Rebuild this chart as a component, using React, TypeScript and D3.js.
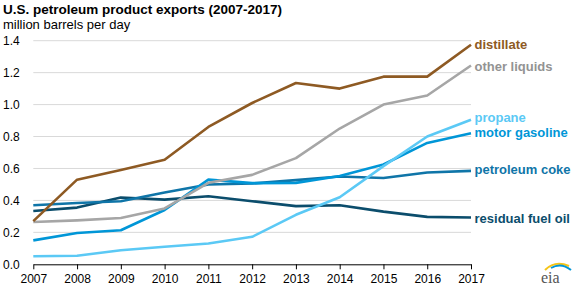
import React, { useRef, useEffect } from 'react';
import * as d3 from 'd3';

const years = [2007, 2008, 2009, 2010, 2011, 2012, 2013, 2014, 2015, 2016, 2017];
const yTicks = [0, 0.2, 0.4, 0.6, 0.8, 1.0, 1.2, 1.4];

const distillate = [0.27, 0.53, 0.59, 0.655, 0.86, 1.01, 1.135, 1.10, 1.175, 1.175, 1.375];
const otherLiquids = [0.265, 0.275, 0.29, 0.35, 0.51, 0.56, 0.665, 0.85, 1.0, 1.057, 1.245];
const propane = [0.05, 0.054, 0.088, 0.11, 0.13, 0.172, 0.31, 0.42, 0.615, 0.80, 0.905];
const motorGasoline = [0.15, 0.196, 0.213, 0.34, 0.53, 0.508, 0.51, 0.553, 0.625, 0.76, 0.82];
const petroleumCoke = [0.37, 0.384, 0.395, 0.45, 0.50, 0.506, 0.527, 0.55, 0.54, 0.575, 0.585];
const residualFuelOil = [0.334, 0.355, 0.418, 0.405, 0.426, 0.395, 0.364, 0.37, 0.33, 0.297, 0.293];

const series = [
  { name: 'residual fuel oil', values: residualFuelOil, color: '#0b4d6c', labelY: 0.288 },
  { name: 'petroleum coke', values: petroleumCoke, color: '#0f75a8', labelY: 0.595 },
  { name: 'motor gasoline', values: motorGasoline, color: '#0096d7', labelY: 0.825 },
  { name: 'propane', values: propane, color: '#5bc9f5', labelY: 0.918 },
  { name: 'other liquids', values: otherLiquids, color: '#a6a6a6', labelY: 1.242, labelColor: '#939393' },
  { name: 'distillate', values: distillate, color: '#8e5a23', labelY: 1.38 },
];

const FONT = 'Arial, "Liberation Sans", sans-serif';

function App() {
  const svgRef = useRef<SVGSVGElement>(null);

  useEffect(() => {
    const svg = d3.select(svgRef.current);
    svg.selectAll('*').remove();

    const x = d3.scaleLinear().domain([2007, 2017]).range([33.3, 471]);
    const y = d3.scaleLinear().domain([0, 1.4]).range([264.3, 40.7]);

    // Title
    svg.append('text')
      .attr('x', 3).attr('y', 14)
      .attr('font-family', FONT).attr('font-size', 13.5).attr('font-weight', 'bold')
      .attr('fill', '#000')
      .text('U.S. petroleum product exports (2007-2017)');
    svg.append('text')
      .attr('x', 3).attr('y', 28.5)
      .attr('font-family', FONT).attr('font-size', 13)
      .attr('fill', '#000')
      .text('million barrels per day');

    // Gridlines
    svg.append('g')
      .selectAll('line')
      .data(yTicks.filter(d => d > 0))
      .enter()
      .append('line')
      .attr('x1', x(2007)).attr('x2', x(2017))
      .attr('y1', d => y(d)).attr('y2', d => y(d))
      .attr('stroke', '#d9d9d9').attr('stroke-width', 1);

    // Y labels
    svg.append('g')
      .selectAll('text')
      .data(yTicks)
      .enter()
      .append('text')
      .attr('x', 3).attr('y', d => y(d) + 4.5)
      .attr('font-family', FONT).attr('font-size', 12)
      .attr('fill', '#000')
      .text(d => d.toFixed(1));

    // X axis
    const xAxis = d3.axisBottom(x)
      .tickValues(years)
      .tickFormat(d => String(d))
      .tickSize(5)
      .tickSizeOuter(0);
    const ax = svg.append('g')
      .attr('transform', `translate(0,${y(0)})`)
      .call(xAxis);
    ax.select('.domain').attr('stroke', '#000').attr('stroke-width', 1);
    ax.selectAll('.tick line').attr('stroke', '#000');
    ax.selectAll('.tick text')
      .attr('font-family', FONT).attr('font-size', 12).attr('fill', '#000')
      .attr('dy', '0.9em');

    // Lines
    const line = d3.line<number>()
      .x((d, i) => x(years[i]))
      .y(d => y(d));

    svg.append('g')
      .selectAll('path')
      .data(series)
      .enter()
      .append('path')
      .attr('d', d => line(d.values))
      .attr('fill', 'none')
      .attr('stroke', d => d.color)
      .attr('stroke-width', 2.6)
      .attr('stroke-linejoin', 'round');

    // End labels
    svg.append('g')
      .selectAll('text')
      .data(series)
      .enter()
      .append('text')
      .attr('x', x(2017) + 3.5)
      .attr('y', d => y(d.labelY) + 4.7)
      .attr('font-family', FONT).attr('font-size', 13).attr('font-weight', 'bold')
      .attr('fill', d => d.labelColor || d.color)
      .text(d => d.name);

    // eia logo
    const logo = svg.append('g').attr('transform', 'translate(541,262)');
    logo.append('path')
      .attr('d', 'M4,8 Q14,-2 28,4')
      .attr('fill', 'none').attr('stroke', '#f5c518').attr('stroke-width', 2);
    logo.append('path')
      .attr('d', 'M10,6 Q20,0 30,8')
      .attr('fill', 'none').attr('stroke', '#0096d7').attr('stroke-width', 2);
    logo.append('text')
      .attr('x', 0).attr('y', 21)
      .attr('font-family', '"Liberation Serif", "DejaVu Serif", serif')
      .attr('font-size', 16)
      .attr('fill', '#555')
      .text('eia');
  }, []);

  return (
    <svg
      ref={svgRef}
      width={580}
      height={290}
      style={{ position: 'absolute', left: 0, top: 0, background: '#fff' }}
    />
  );
}

export default App;
